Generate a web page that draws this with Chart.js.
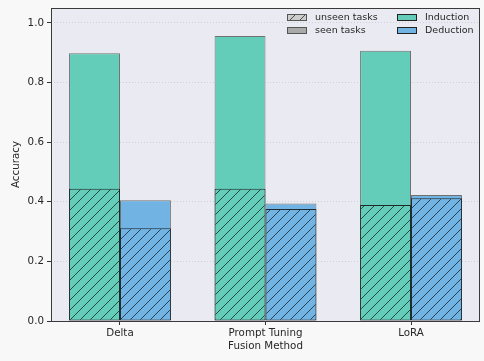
<!DOCTYPE html>
<html>
<head>
<meta charset="utf-8">
<script src="https://cdn.jsdelivr.net/npm/chart.js@4.4.1/dist/chart.umd.min.js"></script>
<style>
  html, body { margin: 0; padding: 0; background: #f8f8f8; }
  canvas { display: block; }
</style>
</head>
<body>
<canvas id="c" width="484" height="361"></canvas>
<script>
// Accuracy per fusion method, for induction / deduction tasks, seen vs unseen
const METHODS = ['Delta', 'Prompt Tuning', 'LoRA'];
const INDUCTION_SEEN = [0.898, 0.956, 0.907];
const INDUCTION_UNSEEN = [0.444, 0.444, 0.389];
const DEDUCTION_SEEN = [0.405, 0.394, 0.423];
const DEDUCTION_UNSEEN = [0.311, 0.376, 0.412];
const Y_TICKS = [0, 0.2, 0.4, 0.6, 0.8, 1.0];

const GREEN = '#64cdba';
const BLUE = '#71b3e2';
const FONT = { family: "'DejaVu Sans', sans-serif", size: 10.3 };
const LEGEND_FONT_SIZE = 9.5;
const TEXT = '#262626';

// diagonal "//" hatch over a base colour
function hatch(color, T = 10) {
  const c = document.createElement('canvas');
  c.width = T; c.height = T;
  const g = c.getContext('2d');
  g.fillStyle = color;
  g.fillRect(0, 0, T, T);
  g.strokeStyle = 'rgba(0,0,0,0.7)';
  g.lineWidth = 0.9;
  g.beginPath();
  g.moveTo(-1, T + 1); g.lineTo(T + 1, -1);
  g.moveTo(-1, 1); g.lineTo(1, -1);
  g.moveTo(T - 1, T + 1); g.lineTo(T + 1, T - 1);
  g.stroke();
  return g.createPattern(c, 'repeat');
}

const pts = arr => arr.map((v, i) => ({ x: i, y: v }));

// drop the automatic label overhang so the plot box sits where the layout padding says
const noPad = s => { s.paddingTop = 0; s.paddingBottom = 0; s.paddingLeft = 0; s.paddingRight = 0; };

const frameAndLegend = {
  id: 'frameAndLegend',
  afterDatasetsDraw(chart) {
    const { ctx, chartArea: a } = chart;
    ctx.save();
    ctx.strokeStyle = '#3a3a3a';
    ctx.lineWidth = 1;
    ctx.strokeRect(a.left + 0.5, a.top + 0.5, a.right - a.left - 1, a.bottom - a.top);
    ctx.restore();
  },
  afterDraw(chart) {
    const { ctx } = chart;
    const items = [
      { x: 287, y: 17.5, fill: hatch('#cccccc', 10), edge: '#555', label: 'unseen tasks' },
      { x: 287, y: 30.5, fill: '#aaaaaa', edge: '#555', label: 'seen tasks' },
      { x: 397, y: 17.5, fill: GREEN, edge: '#222', label: 'Induction' },
      { x: 397, y: 30.5, fill: BLUE, edge: '#222', label: 'Deduction' }
    ];
    ctx.save();
    ctx.font = `${LEGEND_FONT_SIZE}px ${FONT.family}`;
    ctx.textBaseline = 'middle';
    for (const it of items) {
      ctx.fillStyle = it.fill;
      ctx.fillRect(it.x, it.y - 3.5, 20, 7);
      ctx.strokeStyle = it.edge;
      ctx.lineWidth = 1;
      ctx.strokeRect(it.x + 0.5, it.y - 3, 19, 6);
      ctx.fillStyle = TEXT;
      ctx.fillText(it.label, it.x + 28, it.y + 0.5);
    }
    ctx.restore();
  }
};

new Chart(document.getElementById('c'), {
  type: 'bar',
  data: {
    datasets: [
      { label: 'Induction (unseen)', stack: 'ind', data: pts(INDUCTION_UNSEEN),
        backgroundColor: hatch(GREEN), borderColor: '#1f2a28', borderWidth: 1, borderSkipped: false },
      { label: 'Deduction (unseen)', stack: 'ded', data: pts(DEDUCTION_UNSEEN),
        backgroundColor: hatch(BLUE), borderColor: '#1f2a30', borderWidth: 1, borderSkipped: false },
      { label: 'Induction (seen)', stack: 'ind', data: pts(INDUCTION_SEEN),
        backgroundColor: GREEN, borderColor: '#707070', borderWidth: 1, borderSkipped: false },
      { label: 'Deduction (seen)', stack: 'ded', data: pts(DEDUCTION_SEEN),
        backgroundColor: BLUE, borderColor: '#707070', borderWidth: 1, borderSkipped: false }
    ]
  },
  options: {
    responsive: false,
    animation: false,
    layout: { padding: { left: 0, right: 4, top: 8, bottom: 0 } },
    datasets: { bar: { categoryPercentage: 0.7, barPercentage: 1.0 } },
    plugins: { legend: { display: false }, tooltip: { enabled: false } },
    scales: {
      x: {
        type: 'linear', min: -0.474, max: 2.474, stacked: true, offset: false,
        afterBuildTicks: s => { s.ticks = METHODS.map((m, i) => ({ value: i })); },
        afterFit: s => { s.height = 40; noPad(s); },
        ticks: { callback: v => METHODS[v] ?? '', font: FONT, color: TEXT, padding: 2, maxRotation: 0, autoSkip: false },
        grid: { display: true, offset: false, drawOnChartArea: false, drawTicks: true, tickLength: 4, tickColor: '#333', tickWidth: 1 },
        border: { display: false },
        title: { display: true, text: 'Fusion Method', font: FONT, color: TEXT, padding: { top: 0, bottom: 8 } }
      },
      y: {
        min: 0, max: 1.05, stacked: false,
        afterBuildTicks: s => { s.ticks = Y_TICKS.map(v => ({ value: v })); },
        afterFit: s => { s.width = 51; noPad(s); },
        ticks: { callback: v => v.toFixed(1), font: FONT, color: TEXT, padding: 3 },
        grid: { color: '#cfcfd8', lineWidth: 1, tickColor: '#333', tickLength: 4, drawTicks: true },
        border: { display: false, dash: [1, 2] },
        title: { display: true, text: 'Accuracy', font: FONT, color: TEXT, padding: { top: 10, bottom: 0 } }
      }
    }
  },
  plugins: [{
    id: 'plotBg',
    beforeDraw(chart) {
      const { ctx, chartArea: a } = chart;
      ctx.save();
      ctx.fillStyle = '#f8f8f8';
      ctx.fillRect(0, 0, chart.width, chart.height);
      ctx.fillStyle = '#eaeaf2';
      ctx.fillRect(a.left, a.top, a.right - a.left, a.bottom - a.top);
      ctx.restore();
    }
  }, frameAndLegend]
});
</script>
</body>
</html>
